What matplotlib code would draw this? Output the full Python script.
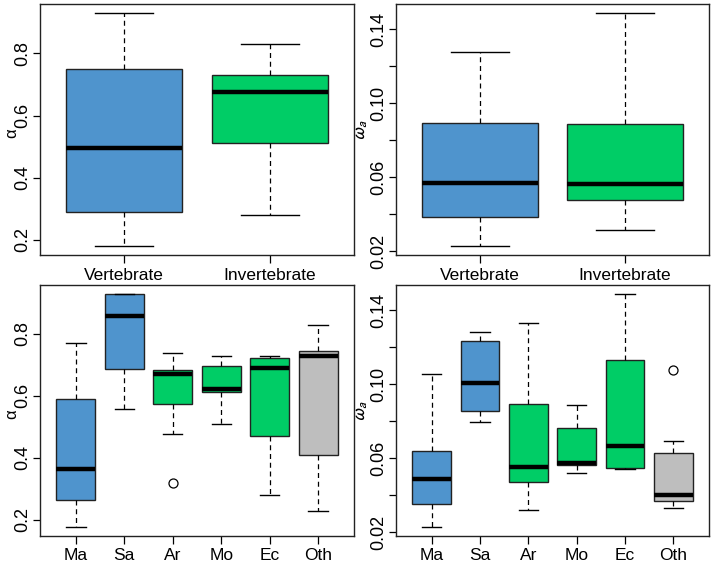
import matplotlib
matplotlib.use("Agg")
import matplotlib.pyplot as plt

plt.rcParams['font.family'] = ['Liberation Sans', 'DejaVu Sans']
plt.rcParams['mathtext.fontset'] = 'stixsans'

# box statistics: low whisker, Q1, median, Q3, high whisker
groups_top = ["Vertebrate", "Invertebrate"]
alpha_top = [[0.181, 0.291, 0.497, 0.749, 0.929],
             [0.280, 0.510, 0.675, 0.729, 0.830]]
omega_top = [[0.0229, 0.0384, 0.0568, 0.0892, 0.1279],
             [0.0316, 0.0474, 0.0564, 0.0888, 0.1487]]

groups_bottom = ["Ma", "Sa", "Ar", "Mo", "Ec", "Oth"]
alpha_bottom = [[0.178, 0.265, 0.365, 0.589, 0.770],
                [0.559, 0.688, 0.859, 0.928, 0.928],
                [0.478, 0.574, 0.670, 0.684, 0.740],
                [0.509, 0.614, 0.622, 0.698, 0.729],
                [0.280, 0.471, 0.689, 0.724, 0.729],
                [0.230, 0.410, 0.729, 0.744, 0.830]]
alpha_bottom_out = [[], [], [0.320], [], [], []]
omega_bottom = [[0.0229, 0.0351, 0.0485, 0.0639, 0.1054],
                [0.0796, 0.0854, 0.1005, 0.1234, 0.1279],
                [0.0317, 0.0469, 0.0553, 0.0894, 0.1330],
                [0.0517, 0.0560, 0.0573, 0.0764, 0.0888],
                [0.0542, 0.0548, 0.0667, 0.1128, 0.1485],
                [0.0331, 0.0368, 0.0400, 0.0625, 0.0692]]
omega_bottom_out = [[], [], [], [], [], [0.1077]]

blue, green, grey = "#4F94CD", "#00CD66", "#BEBEBE"
colors_top = [blue, green]
colors_bottom = [blue, blue, green, green, green, grey]


def boxpanel(ax, names, stats, outliers, colors, yticks, ylabels, ylab, labx, laby, labsize):
    data = []
    for s, out in zip(stats, outliers):
        data.append(dict(whislo=s[0], q1=s[1], med=s[2], q3=s[3], whishi=s[4], fliers=out))
    n = len(names)
    bp = ax.bxp(data, positions=range(1, n + 1), widths=0.8, capwidths=0.4,
                patch_artist=True, showfliers=True,
                boxprops=dict(edgecolor="#222222", linewidth=1.0),
                medianprops=dict(color="black", linewidth=3.2, solid_capstyle="butt"),
                whiskerprops=dict(color="black", linewidth=0.9, linestyle=(0, (4, 3))),
                capprops=dict(color="black", linewidth=1.0),
                flierprops=dict(marker="o", markerfacecolor="none", markeredgecolor="black",
                                markersize=6.5, markeredgewidth=0.9))
    for patch, c in zip(bp["boxes"], colors):
        patch.set_facecolor(c)
    vals = [v for s in stats for v in s] + [v for o in outliers for v in o]
    lo, hi = min(vals), max(vals)
    pad = 0.04 * (hi - lo)
    ax.set_ylim(lo - pad, hi + pad)
    ax.set_xlim(0.5 - 0.04 * n, n + 0.5 + 0.04 * n)
    ax.set_xticks(range(1, n + 1))
    ax.set_xticklabels(names, fontsize=12.5)
    ax.set_yticks(yticks)
    ax.set_yticklabels(ylabels, fontsize=13, rotation=90, va="center")
    ax.tick_params(direction="out", length=5, width=0.9, pad=1)
    ax.tick_params(axis="x", length=6, pad=3)
    for sp in ax.spines.values():
        sp.set_linewidth(1.0)
        sp.set_color("#222222")
    ax.set_ylabel(ylab, fontsize=labsize)
    ax.yaxis.set_label_coords(labx, laby)


fig = plt.figure(figsize=(7.14, 5.67), dpi=100)
W, H = 714, 567


def axes_px(x0, x1, y0, y1):
    return fig.add_axes([x0 / W, 1 - y1 / H, (x1 - x0) / W, (y1 - y0) / H])


a_ticks = [0.2, 0.4, 0.6, 0.8]
a_labels = ["0.2", "0.4", "0.6", "0.8"]
o_ticks = [0.02, 0.04, 0.06, 0.08, 0.10, 0.12, 0.14]
o_labels = ["0.02", "", "0.06", "", "0.10", "", "0.14"]

ax1 = axes_px(40, 354, 4, 255)
boxpanel(ax1, groups_top, alpha_top, [[], []], colors_top, a_ticks, a_labels, "α", -0.067, 0.485, 12)
ax2 = axes_px(396, 709, 4, 255)
boxpanel(ax2, groups_top, omega_top, [[], []], colors_top, o_ticks, o_labels, r"$\omega_a$", -0.082, 0.5, 14)
ax3 = axes_px(40, 354, 285, 536)
boxpanel(ax3, groups_bottom, alpha_bottom, alpha_bottom_out, colors_bottom, a_ticks, a_labels, "α", -0.067, 0.485, 12)
ax4 = axes_px(396, 709, 285, 536)
boxpanel(ax4, groups_bottom, omega_bottom, omega_bottom_out, colors_bottom, o_ticks, o_labels, r"$\omega_a$", -0.082, 0.5, 14)

fig.savefig("out.png", dpi=100)
